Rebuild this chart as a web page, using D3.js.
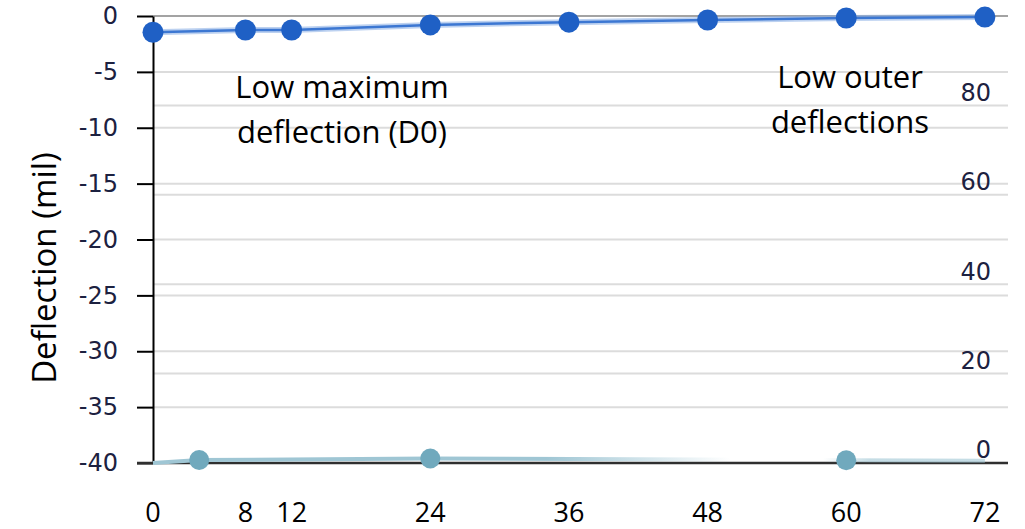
<!DOCTYPE html>
<html>
  <head>
    <meta charset="utf-8" />
    <style>
      body {
        margin: 0;
        background: #fff;
      }
      .tick-left text,
      .tick-right text {
        font-family: "DejaVu Sans", sans-serif;
        font-size: 24px;
        fill: #1c2140;
      }
      .x-label {
        font-family: "Open Sans", sans-serif;
        font-size: 27px;
        fill: #000;
      }
      .note {
        font-family: "Open Sans", sans-serif;
        font-size: 31px;
        fill: #000;
      }
      .title {
        font-family: "Open Sans", sans-serif;
        font-size: 33px;
        fill: #000;
      }
    </style>
  </head>
  <body>
    <svg width="1025" height="529"></svg>
    <script src="https://d3js.org/d3.v7.min.js"></script>
    <script>
      // x positions (in) and deflections
      let xTicks = [0, 8, 12, 24, 36, 48, 60, 72];
      let yTicks = [0, -5, -10, -15, -20, -25, -30, -35, -40];
      let rightTicks = [0, 20, 40, 60, 80];

      let blueX = [0, 8, 12, 24, 36, 48, 60, 72];
      let blueY = [-1.45, -1.25, -1.25, -0.8, -0.55, -0.36, -0.18, -0.1];

      let tealLineX = [0, 4, 24, 60, 72];
      let tealLineY = [-40, -39.73, -39.6, -39.75, -39.8];
      let tealX = [4, 24, 60];
      let tealY = [-39.73, -39.6, -39.75];

      let svg = d3.select("svg");
      let margin = { top: 16, right: 17, bottom: 66, left: 153 };
      let width = 1025;
      let height = 529;

      let x = d3.scaleLinear().domain([0, 74]).range([margin.left, width - margin.right]);
      let y = d3.scaleLinear().domain([-40, 0]).range([height - margin.bottom, margin.top]);
      let yRight = d3.scaleLinear().domain([0, 100]).range([height - margin.bottom, margin.top]);

      // left gridlines
      let grid = svg.append("g");
      grid
        .selectAll(".gl")
        .data(yTicks.filter((d) => d != 0 && d != -40))
        .join("line")
        .attr("x1", margin.left)
        .attr("x2", width - margin.right)
        .attr("y1", (d) => y(d))
        .attr("y2", (d) => y(d))
        .attr("stroke", "#dcdcdc")
        .attr("stroke-width", 2);

      // right gridlines
      grid
        .selectAll(".gr")
        .data(rightTicks.filter((d) => d != 0))
        .join("line")
        .attr("x1", margin.left)
        .attr("x2", width - margin.right)
        .attr("y1", (d) => yRight(d))
        .attr("y2", (d) => yRight(d))
        .attr("stroke", "#dcdcdc")
        .attr("stroke-width", 2);

      // top (zero) line
      grid
        .append("line")
        .attr("x1", margin.left)
        .attr("x2", width - margin.right)
        .attr("y1", y(0))
        .attr("y2", y(0))
        .attr("stroke", "#a3a3a3")
        .attr("stroke-width", 2);

      // left axis
      let yAxis = d3
        .axisLeft(y)
        .tickValues(yTicks)
        .tickFormat((d) => String(d))
        .tickSize(16)
        .tickPadding(19)
        .tickSizeOuter(0);
      let yg = svg
        .append("g")
        .attr("class", "tick-left")
        .attr("transform", `translate(${margin.left},0)`)
        .call(yAxis);
      yg.select(".domain").attr("stroke", "#000").attr("stroke-width", 2);
      yg.selectAll(".tick line").attr("stroke", "#000").attr("stroke-width", 2);

      // bottom axis line
      svg
        .append("line")
        .attr("x1", margin.left - 16)
        .attr("x2", width - margin.right)
        .attr("y1", y(-40))
        .attr("y2", y(-40))
        .attr("stroke", "#2f2f2f")
        .attr("stroke-width", 2.5);

      // right axis labels (sit inside the plot, above their lines)
      svg
        .append("g")
        .attr("class", "tick-right")
        .selectAll("text")
        .data(rightTicks)
        .join("text")
        .attr("x", 991)
        .attr("y", (d) => yRight(d) - 13)
        .attr("dy", "0.35em")
        .attr("text-anchor", "end")
        .text((d) => d);

      // x labels
      svg
        .append("g")
        .selectAll("text")
        .data(xTicks)
        .join("text")
        .attr("class", "x-label")
        .attr("x", (d) => x(d))
        .attr("y", 522)
        .attr("text-anchor", "middle")
        .text((d) => d);

      // teal series, fading out in the middle
      let defs = svg.append("defs");
      let grad = defs
        .append("linearGradient")
        .attr("id", "tealFade")
        .attr("gradientUnits", "userSpaceOnUse")
        .attr("x1", x(0))
        .attr("x2", x(74))
        .attr("y1", 0)
        .attr("y2", 0);
      [
        [0, 1],
        [34, 1],
        [50, 0],
        [58, 0],
        [62, 0.6],
        [74, 0.6],
      ].forEach((s) => {
        grad
          .append("stop")
          .attr("offset", s[0] / 74)
          .attr("stop-color", "#9fc6d4")
          .attr("stop-opacity", s[1]);
      });

      let line = d3
        .line()
        .x((d) => x(d[0]))
        .y((d) => y(d[1]));

      svg
        .append("path")
        .attr("d", line(d3.zip(tealLineX, tealLineY)))
        .attr("fill", "none")
        .attr("stroke", "url(#tealFade)")
        .attr("stroke-width", 4);

      svg
        .append("g")
        .selectAll("circle")
        .data(d3.zip(tealX, tealY))
        .join("circle")
        .attr("cx", (d) => x(d[0]))
        .attr("cy", (d) => y(d[1]))
        .attr("r", 10)
        .attr("fill", "#70a9bd");

      // blue series
      let blue = d3.zip(blueX, blueY);
      svg
        .append("path")
        .attr("d", line(blue))
        .attr("fill", "none")
        .attr("stroke", "#8fb2e6")
        .attr("stroke-opacity", 0.6)
        .attr("stroke-width", 6);
      svg
        .append("path")
        .attr("d", line(blue))
        .attr("fill", "none")
        .attr("stroke", "#3c77d2")
        .attr("stroke-width", 2.5);
      svg
        .append("g")
        .selectAll("circle")
        .data(blue)
        .join("circle")
        .attr("cx", (d) => x(d[0]))
        .attr("cy", (d) => y(d[1]))
        .attr("r", 10.5)
        .attr("fill", "#1f60c5");

      // notes
      let notes = [
        { x: 342, y: 98, lines: ["Low maximum", "deflection (D0)"] },
        { x: 850, y: 88, lines: ["Low outer", "deflections"] },
      ];
      notes.forEach((n) => {
        let t = svg
          .append("text")
          .attr("class", "note")
          .attr("x", n.x)
          .attr("y", n.y)
          .attr("text-anchor", "middle");
        n.lines.forEach((l, i) => {
          t.append("tspan")
            .attr("x", n.x)
            .attr("dy", i == 0 ? 0 : 45)
            .text(l);
        });
      });

      // y axis title
      svg
        .append("text")
        .attr("class", "title")
        .attr("transform", "translate(56,268) rotate(-90)")
        .attr("text-anchor", "middle")
        .text("Deflection (mil)");
    </script>
  </body>
</html>
